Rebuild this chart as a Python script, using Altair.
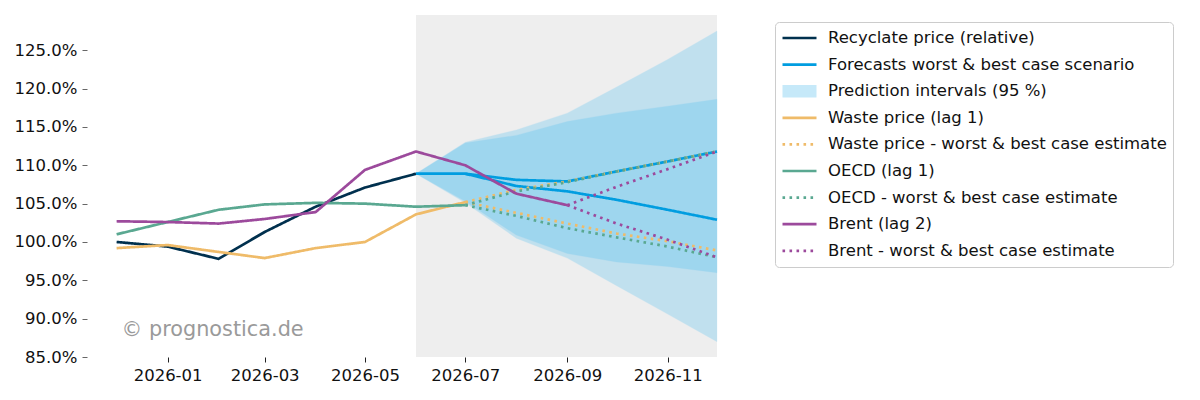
import altair as alt
import pandas as pd

# ---------------- data (values in percent) ----------------
HIST_DATES = ["2025-12", "2026-01", "2026-02", "2026-03", "2026-04", "2026-05", "2026-06"]
RECYCLATE = [100.0, 99.4, 97.8, 101.3, 104.6, 107.1, 108.9]

LAG1_DATES = HIST_DATES + ["2026-07"]
WASTE = [99.2, 99.6, 98.7, 97.9, 99.2, 100.0, 103.6, 105.2]
OECD = [101.0, 102.6, 104.2, 104.9, 105.1, 105.0, 104.6, 104.8]

LAG2_DATES = LAG1_DATES + ["2026-08", "2026-09"]
BRENT = [102.7, 102.6, 102.4, 103.0, 103.9, 109.4, 111.8, 110.0, 106.3, 104.8]

FC_DATES = ["2026-06", "2026-07", "2026-08", "2026-09", "2026-10", "2026-11", "2026-12"]
FC_BEST = [108.9, 108.9, 108.1, 107.9, 109.2, 110.5, 111.8]
FC_WORST = [108.9, 108.9, 107.3, 106.6, 105.5, 104.2, 102.9]
PI_A_HI = [108.9, 113.0, 114.6, 116.8, 120.2, 123.8, 127.5]
PI_A_LO = [108.9, 105.1, 100.5, 97.9, 94.3, 90.6, 87.0]
PI_B_HI = [108.9, 112.9, 113.9, 115.7, 116.8, 117.7, 118.6]
PI_B_LO = [108.9, 105.3, 100.9, 98.5, 97.4, 96.8, 96.0]

EST1_DATES = ["2026-07", "2026-08", "2026-09", "2026-10", "2026-11", "2026-12"]
WASTE_BEST = [105.2, 106.8, 107.9, 109.2, 110.5, 111.8]
WASTE_WORST = [105.2, 103.8, 102.4, 101.1, 100.1, 98.9]
OECD_BEST = [104.8, 106.6, 107.8, 109.2, 110.5, 111.8]
OECD_WORST = [104.8, 103.4, 101.8, 100.6, 99.4, 98.0]

EST2_DATES = ["2026-09", "2026-10", "2026-11", "2026-12"]
BRENT_BEST = [104.8, 107.2, 109.5, 111.8]
BRENT_WORST = [104.8, 102.4, 100.3, 98.0]

FORECAST_REGION = ["2026-06", "2026-12"]
Y_RANGE = [85.0, 129.6]
X_START = "2025-11-13"
Y_TICKS = [85, 90, 95, 100, 105, 110, 115, 120, 125]
X_TICKS = ["2026-01", "2026-03", "2026-05", "2026-07", "2026-09", "2026-11"]

WATERMARK = {"date": "2025-12-04", "value": 88.5, "text": "© prognostica.de"}

S_REC = "Recyclate price (relative)"
S_FC = "Forecasts worst & best case scenario"
S_PI = "Prediction intervals (95 %)"
S_WASTE = "Waste price (lag 1)"
S_WASTE_E = "Waste price - worst & best case estimate"
S_OECD = "OECD (lag 1)"
S_OECD_E = "OECD - worst & best case estimate"
S_BRENT = "Brent (lag 2)"
S_BRENT_E = "Brent - worst & best case estimate"
SERIES = [S_REC, S_FC, S_PI, S_WASTE, S_WASTE_E, S_OECD, S_OECD_E, S_BRENT, S_BRENT_E]

NAVY, BLUE, ORANGE, GREEN, PURPLE = "#00304e", "#009de0", "#efbb69", "#5aa891", "#9c4a9c"
PI_PATCH = "#c6e9f9"
COLORS = [NAVY, BLUE, PI_PATCH, ORANGE, ORANGE, GREEN, GREEN, PURPLE, PURPLE]
SOLID, DOT = [1, 0], [2.6, 4.4]
DASHES = [SOLID, SOLID, SOLID, SOLID, DOT, SOLID, DOT, SOLID, DOT]
RECT_PATH = "M-1,-0.37L1,-0.37L1,0.37L-1,0.37Z"
LW = 2.7


def ts(m):
    return m + "-01T00:00:00" if len(m) == 7 else m + "T00:00:00"


rows = []


def add(dates, vals, series, line):
    for d, v in zip(dates, vals):
        rows.append({"date": ts(d), "value": v / 100.0, "series": series, "line": line})


add(HIST_DATES, RECYCLATE, S_REC, "rec")
add(FC_DATES, FC_BEST, S_FC, "fc_best")
add(FC_DATES, FC_WORST, S_FC, "fc_worst")
add(LAG1_DATES, WASTE, S_WASTE, "waste")
add(EST1_DATES, WASTE_BEST, S_WASTE_E, "waste_best")
add(EST1_DATES, WASTE_WORST, S_WASTE_E, "waste_worst")
add(LAG1_DATES, OECD, S_OECD, "oecd")
add(EST1_DATES, OECD_BEST, S_OECD_E, "oecd_best")
add(EST1_DATES, OECD_WORST, S_OECD_E, "oecd_worst")
add(LAG2_DATES, BRENT, S_BRENT, "brent")
add(EST2_DATES, BRENT_BEST, S_BRENT_E, "brent_best")
add(EST2_DATES, BRENT_WORST, S_BRENT_E, "brent_worst")
lines_df = pd.DataFrame(rows)

band_rows = []
for name, hi, lo in [("a", PI_A_HI, PI_A_LO), ("b", PI_B_HI, PI_B_LO)]:
    for d, h, l in zip(FC_DATES, hi, lo):
        band_rows.append({"date": ts(d), "hi": h / 100.0, "lo": l / 100.0, "band": name})
band_df = pd.DataFrame(band_rows)

region_df = pd.DataFrame({"start": [ts(FORECAST_REGION[0])], "end": [ts(FORECAST_REGION[1])],
                          "ylo": [Y_RANGE[0] / 100.0], "yhi": [Y_RANGE[1] / 100.0]})
wm_df = pd.DataFrame({"date": [ts(WATERMARK["date"])], "value": [WATERMARK["value"] / 100.0],
                      "text": [WATERMARK["text"]]})

# ---------------- scales / axes ----------------
x_scale = alt.Scale(domain=[ts(X_START), ts(FORECAST_REGION[1])], nice=False)
y_scale = alt.Scale(domain=[v / 100.0 for v in Y_RANGE], nice=False, zero=False)

x_axis = alt.Axis(values=[ts(t) for t in X_TICKS], format="%Y-%m", labelAngle=0, title=None,
                  domain=False, grid=False, tickSize=5, tickColor="#222", tickWidth=1,
                  labelFontSize=16.5, labelColor="#111", labelPadding=5)
y_axis = alt.Axis(values=[t / 100.0 for t in Y_TICKS], format=".1%", title=None,
                  domain=False, grid=False, tickSize=5, tickColor="#666", tickWidth=1,
                  labelFontSize=16.5, labelColor="#111", labelPadding=5)

X = alt.X("date:T", scale=x_scale, axis=x_axis)
Y = alt.Y("value:Q", scale=y_scale, axis=y_axis)

legend = alt.Legend(
    title=None, orient="none", legendX=688, legendY=7,
    symbolType="stroke", symbolSize=1156, symbolStrokeWidth=LW, symbolOpacity=1,
    symbolFillColor="transparent", symbolStrokeColor="transparent",
    labelFontSize=16.5, labelColor="#111", labelOffset=10, labelLimit=600,
    clipHeight=20, rowPadding=6.6, padding=6,
    strokeColor="#cccccc", fillColor="white", cornerRadius=4,
)
dash_scale = alt.Scale(domain=SERIES, range=DASHES)
stroke_scale = alt.Scale(domain=SERIES, range=[c if s != S_PI else "transparent" for s, c in zip(SERIES, COLORS)])
fill_scale = alt.Scale(domain=SERIES, range=[PI_PATCH if s == S_PI else "transparent" for s in SERIES])
shape_scale = alt.Scale(domain=SERIES, range=[RECT_PATH if s == S_PI else "stroke" for s in SERIES])

# ---------------- layers ----------------
region = alt.Chart(region_df).mark_rect(color="#eeeeee").encode(
    x=alt.X("start:T", scale=x_scale, axis=x_axis), x2="end:T",
    y=alt.Y("ylo:Q", scale=y_scale, axis=y_axis), y2="yhi:Q")

bands = alt.Chart(band_df).mark_area(
    color="#3cb9f0", opacity=0.25, stroke="#3cb9f0", strokeWidth=1, strokeOpacity=0.3
).encode(x=X, y=alt.Y("lo:Q", scale=y_scale, axis=y_axis), y2="hi:Q", detail="band:N")


def line_layer(series):
    return alt.Chart(lines_df).transform_filter(alt.datum.series == series).mark_line(
        strokeWidth=LW, strokeJoin="round"
    ).encode(
        x=X, y=Y,
        stroke=alt.Stroke("series:N", scale=stroke_scale, legend=legend),
        strokeDash=alt.StrokeDash("series:N", scale=dash_scale, legend=legend),
        detail="line:N",
    )


line_layers = [line_layer(s) for s in SERIES if s != S_PI]

# invisible points on the line data that add fill and shape to the combined legend
legend_layer = alt.Chart(lines_df).mark_point(filled=True, opacity=0, size=1).encode(
    x=X, y=Y,
    stroke=alt.Stroke("series:N", scale=stroke_scale, legend=legend),
    fill=alt.Fill("series:N", scale=fill_scale, legend=legend),
    shape=alt.Shape("series:N", scale=shape_scale, legend=legend),
    strokeDash=alt.StrokeDash("series:N", scale=dash_scale, legend=legend),
)

wm = alt.Chart(wm_df).mark_text(align="left", baseline="middle", fontSize=20.8, color="#9a9a9a").encode(
    x=alt.X("date:T", scale=x_scale, axis=x_axis), y=Y, text="text:N")

chart = alt.layer(region, bands, *line_layers, legend_layer, wm).properties(
    width=630, height=342,
    autosize=alt.AutoSizeParams(type="none"),
    padding={"left": 79, "top": 7, "right": 467, "bottom": 35},
).configure(font="DejaVu Sans").configure_view(stroke=None)

chart.save("out.html", embed_options={"renderer": "svg", "actions": False})
